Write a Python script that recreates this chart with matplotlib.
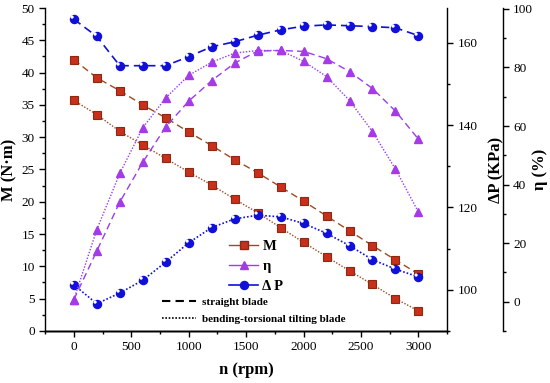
import numpy as np
import matplotlib.pyplot as plt
from matplotlib.lines import Line2D
from matplotlib.path import Path
from matplotlib.ticker import MultipleLocator

plt.rcParams['font.family'] = ['Liberation Serif', 'DejaVu Serif']

rpm = [0, 200, 400, 600, 800, 1000, 1200, 1400, 1600, 1800, 2000, 2200, 2400, 2600, 2800, 3000]

# straight blade (dashed) / bending-torsional tilting blade (dotted)
M_straight = [42.0, 39.2, 37.2, 35.0, 33.0, 30.8, 28.7, 26.5, 24.5, 22.3, 20.1, 17.8, 15.5, 13.2, 11.0, 8.8]
M_bent = [35.7, 33.5, 30.9, 28.8, 26.7, 24.6, 22.6, 20.4, 18.3, 16.0, 13.7, 11.5, 9.3, 7.2, 5.0, 3.1]

eta_straight = [0.7, 17.3, 34.0, 47.6, 59.7, 68.5, 75.5, 81.5, 85.6, 85.8, 85.5, 83.0, 78.6, 72.8, 65.1, 55.5]
eta_bent = [0.7, 24.6, 43.8, 59.4, 69.6, 77.3, 81.8, 84.9, 85.8, 85.8, 82.1, 76.9, 68.7, 58.1, 45.3, 30.6]

dp_straight = [165.7, 161.5, 154.4, 154.4, 154.4, 156.6, 159.0, 160.2, 161.8, 163.1, 164.0, 164.3, 164.1, 163.9, 163.6, 161.7]
dp_bent = [101.2, 96.6, 99.2, 102.3, 106.7, 111.4, 115.1, 117.2, 118.1, 117.7, 116.1, 113.7, 110.7, 107.3, 105.0, 103.1]

c_M_line = '#9b4a22'
c_M_face = '#c8301c'
c_M_edge = '#8a2a10'
c_eta_line = '#9a3cf0'
c_eta_face = '#a43ae8'
c_dp = '#1010d8'

# small white highlight for the "ball" markers
circ = Path.unit_circle()
hl_path = Path(circ.vertices * 0.1 + np.array([-0.15, 0.15]), circ.codes)

fig = plt.figure(figsize=(5.5, 3.83), dpi=100)
ax = fig.add_axes([0.082, 0.136, 0.731, 0.843])
ax2 = ax.twinx()
ax3 = ax.twinx()
ax3.spines['right'].set_position(('outward', 40))

for a in (ax, ax2, ax3):
    a.spines['top'].set_visible(False)
ax.spines['right'].set_visible(False)
ax3.spines['left'].set_visible(False)
ax2.spines['left'].set_visible(False)

ms = 5.2
for ys, ls in ((M_straight, (0, (5, 3))), (M_bent, (0, (1, 1.2)))):
    ax.plot(rpm, ys, ls=ls, color=c_M_line, lw=1, marker='s', ms=ms,
            mfc=c_M_face, mec=c_M_edge, mew=0.8)
for ys, ls in ((eta_straight, (0, (5, 3))), (eta_bent, (0, (1, 1.2)))):
    ax3.plot(rpm, ys, ls=ls, color=c_eta_line, lw=1, marker='^', ms=ms + 0.8,
             mfc=c_eta_face, mec=c_eta_face)
for ys, ls in ((dp_straight, (0, (5, 3))), (dp_bent, (0, (1, 1.2)))):
    ax2.plot(rpm, ys, ls=ls, color=c_dp, lw=1.2, marker='o', ms=ms + 0.6,
             mfc=c_dp, mec=c_dp)
    ax2.plot(rpm, ys, ls='none', marker=hl_path, ms=ms + 0.6, mfc='white', mec='none')

ax.set_xlim(-250, 3250)
ax.set_ylim(0, 50)
ax2.set_ylim(90, 168.4)
ax3.set_ylim(-10, 100.3)

ax.xaxis.set_major_locator(MultipleLocator(500))
ax.xaxis.set_minor_locator(MultipleLocator(250))
ax.yaxis.set_major_locator(MultipleLocator(5))
ax.yaxis.set_minor_locator(MultipleLocator(2.5))
ax2.yaxis.set_major_locator(MultipleLocator(20))
ax2.yaxis.set_minor_locator(MultipleLocator(10))
ax3.yaxis.set_major_locator(MultipleLocator(20))
ax3.yaxis.set_minor_locator(MultipleLocator(10))

for a in (ax, ax2, ax3):
    a.tick_params(which='major', direction='out', length=4, width=1, labelsize=9.5)
    a.tick_params(which='minor', direction='out', length=2.5, width=1)
    for s in a.spines.values():
        s.set_linewidth(1)

ax.set_xlabel('n (rpm)', fontsize=12, fontweight='bold', labelpad=6)
ax.set_ylabel('M (N·m)', fontsize=12, fontweight='bold', labelpad=3)
ax2.set_ylabel('ΔP (KPa)', fontsize=12, fontweight='bold')
ax3.set_ylabel('η (%)', fontsize=12, fontweight='bold')
ax2.yaxis.set_label_coords(1.102, 0.5)
ax3.yaxis.set_label_coords(1.212, 0.5)

h1 = [Line2D([], [], color=c_M_line, lw=1, marker='s', ms=ms, mfc=c_M_face, mec=c_M_edge),
      Line2D([], [], color=c_eta_line, lw=1, marker='^', ms=ms + 0.8, mfc=c_eta_face, mec=c_eta_face),
      Line2D([], [], color=c_dp, lw=1.2, marker='o', ms=ms + 0.6, mfc=c_dp, mec=c_dp)]
leg1 = ax3.legend(h1, ['M', 'η', 'Δ P'], loc='upper left', bbox_to_anchor=(0.403, 0.392),
                  bbox_transform=fig.transFigure, frameon=False, borderpad=0,
                  handlelength=2.0, handletextpad=0.3, labelspacing=0.45,
                  prop={'weight': 'bold', 'size': 10.5})
ax3.add_artist(leg1)
h2 = [Line2D([], [], color='black', lw=1.5, ls=(0, (4, 2.5))),
      Line2D([], [], color='black', lw=1.2, ls=(0, (1, 1)))]
ax3.legend(h2, ['straight blade', 'bending-torsional tilting blade'], loc='upper left',
           bbox_to_anchor=(0.285, 0.238), bbox_transform=fig.transFigure, frameon=False,
           borderpad=0, handlelength=3.0, handletextpad=0.6, labelspacing=0.6,
           prop={'weight': 'bold', 'size': 8})

fig.savefig('out.png', dpi=100)
